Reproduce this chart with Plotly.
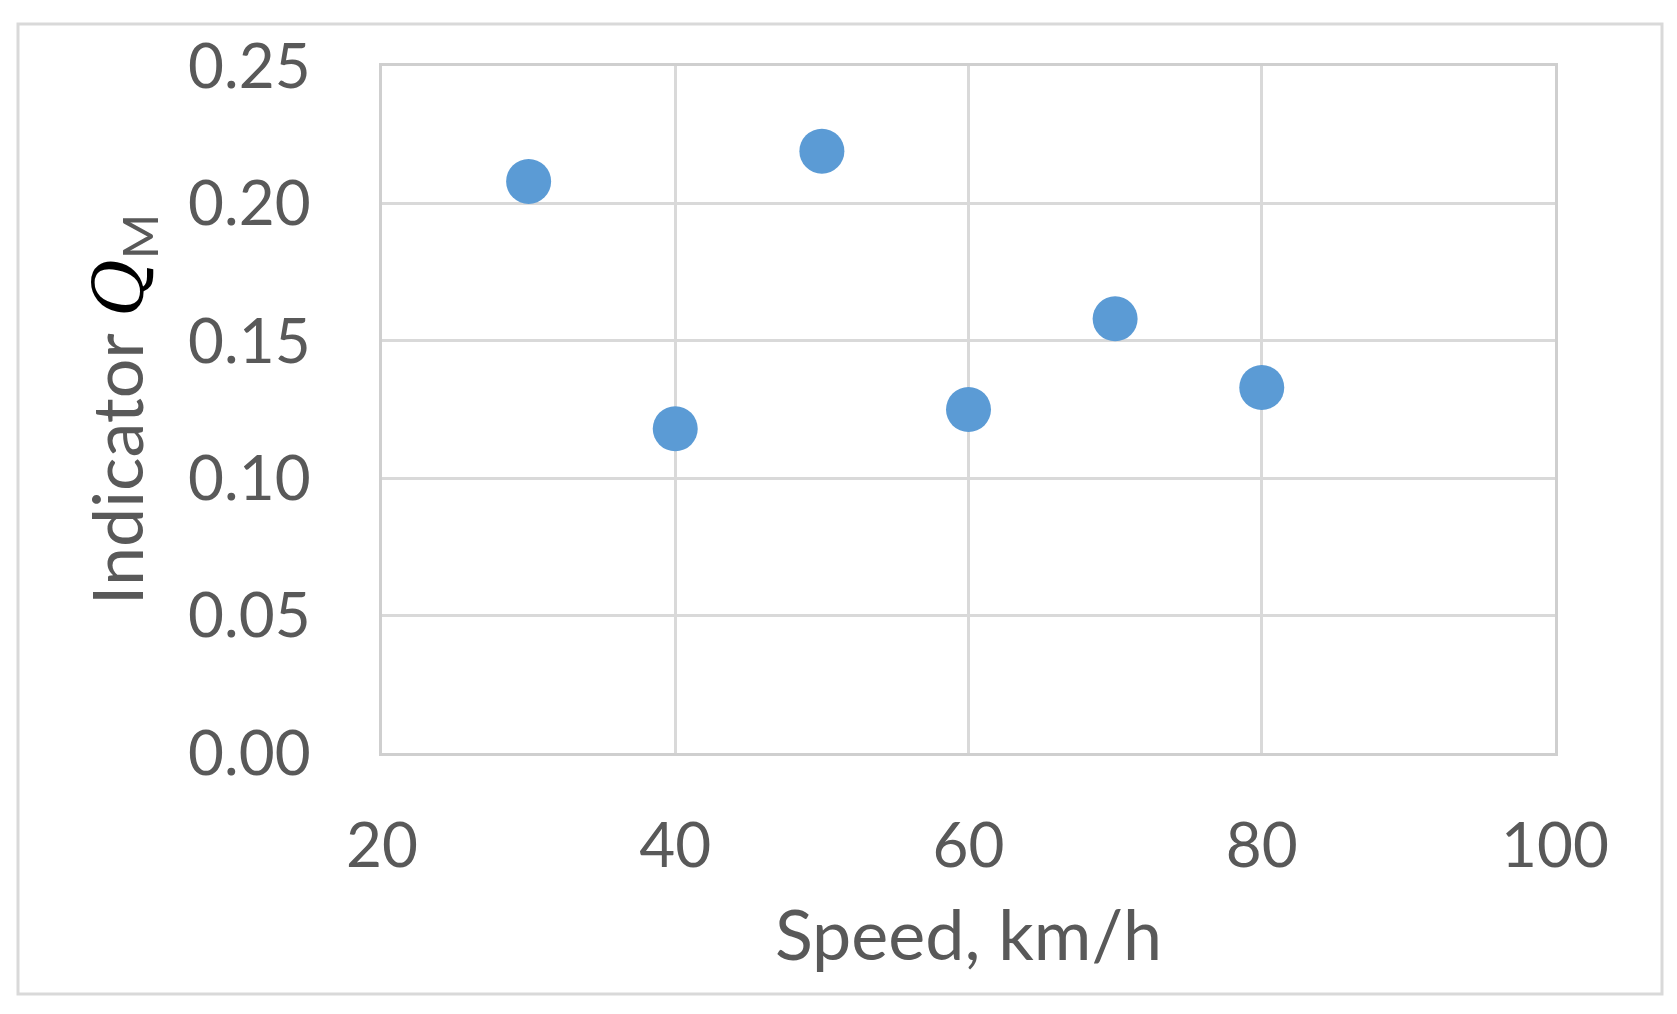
import plotly.graph_objects as go

# speed vs indicator Q_M
speed = [30, 40, 50, 60, 70, 80]
qm = [0.208, 0.118, 0.219, 0.125, 0.158, 0.133]

x_ticks = [20, 40, 60, 80, 100]
y_ticks = [0.00, 0.05, 0.10, 0.15, 0.20, 0.25]

grey = "#595959"
gridc = "#D9D9D9"

W, H = 1677, 1014
L, R, T, B = 374, 1547, 58, 745

fig = go.Figure()
fig.add_trace(go.Scatter(
    x=speed, y=qm, mode="markers",
    marker=dict(size=45, color="#5B9BD5"),
    showlegend=False,
))

fig.update_layout(
    width=W, height=H,
    margin=dict(l=L, r=W - R, t=T, b=H - B),
    paper_bgcolor="white", plot_bgcolor="white",
    font=dict(family="Lato, Liberation Sans, sans-serif", color=grey, size=62),
)
fig.update_xaxes(
    range=[20, 100], tickvals=x_ticks,
    showgrid=True, gridcolor=gridc, gridwidth=3,
    showline=True, linecolor="#CFCFCF", linewidth=3, mirror=True,
    zeroline=False, ticks="", ticklabelstandoff=37,
    tickfont=dict(size=62, color=grey),
    title=dict(text="Speed, km/h", font=dict(size=70, color=grey), standoff=32),
)
fig.update_yaxes(
    range=[0, 0.25], tickvals=y_ticks, tickformat=".2f",
    showgrid=True, gridcolor=gridc, gridwidth=3,
    showline=True, linecolor="#CFCFCF", linewidth=3, mirror=True,
    zeroline=False, ticks="", ticklabelstandoff=56,
    tickfont=dict(size=62, color=grey),
    title=dict(
        text="Indicator <span style='font-family:DejaVu Serif;font-style:italic;color:black'>Q</span><sub>M</sub>",
        font=dict(size=70, color=grey), standoff=22,
    ),
)

# outer chart border, in pixels converted to paper fractions
bx0, by0, bx1, by1 = 10, 16, 1654, 986
pw, ph = R - L, B - T
fig.add_shape(type="rect", xref="paper", yref="paper",
              x0=(bx0 - L) / pw, x1=(bx1 - L) / pw,
              y0=(B - by1) / ph, y1=(B - by0) / ph,
              line=dict(color=gridc, width=3), layer="below")

fig.write_html("out.html")
